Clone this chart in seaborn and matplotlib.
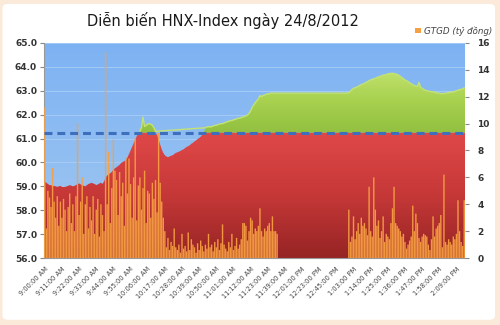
import numpy as np
import pandas as pd
import matplotlib
matplotlib.use("Agg")
import matplotlib.pyplot as plt
import seaborn as sns
from matplotlib.colors import LinearSegmentedColormap
from matplotlib.path import Path
from matplotlib.patches import FancyBboxPatch, Patch

# ---------------- data ----------------
title = "Diễn biến HNX-Index ngày 24/8/2012"
legend_label = "GTGD (tỷ đồng)"
reference_level = 61.25

tick_labels = ["9:00:00 AM", "9:11:00 AM", "9:22:00 AM", "9:33:00 AM", "9:44:00 AM",
               "9:55:00 AM", "10:06:00 AM", "10:17:00 AM", "10:28:00 AM", "10:39:00 AM",
               "10:50:00 AM", "11:01:00 AM", "11:12:00 AM", "11:23:00 AM", "11:39:00 AM",
               "12:01:00 PM", "12:23:00 PM", "12:45:00 PM", "1:03:00 PM", "1:14:00 PM",
               "1:25:00 PM", "1:36:00 PM", "1:47:00 PM", "1:58:00 PM", "2:09:00 PM"]
tick_every = 11

index_values = [
    59.20, 59.15, 59.10, 59.05, 59.05, 59.00, 59.02, 59.00, 58.98, 59.00,
    59.02, 58.98, 58.97, 58.98, 59.00, 59.02, 59.05, 59.03, 59.00, 59.02,
    59.05, 59.10, 59.12, 59.08, 59.05, 59.02, 59.00, 59.05, 59.10, 59.12,
    59.15, 59.12, 59.10, 59.05, 59.08, 59.12, 59.15, 59.10, 59.20, 59.35,
    59.45, 59.50, 59.55, 59.60, 59.70, 59.75, 59.80, 59.85, 59.90, 59.98,
    60.02, 60.05, 60.10, 60.20, 60.35, 60.50, 60.65, 60.80, 60.95, 61.10,
    61.20, 61.30, 61.45, 61.90, 61.50, 61.55, 61.60, 61.62, 61.60, 61.55,
    61.45, 61.30, 61.15, 60.95, 60.75, 60.55, 60.40, 60.30, 60.25, 60.22,
    60.25, 60.28, 60.30, 60.35, 60.40, 60.42, 60.45, 60.48, 60.52, 60.55,
    60.60, 60.65, 60.68, 60.72, 60.78, 60.82, 60.88, 60.92, 60.98, 61.02,
    61.08, 61.15, 61.25, 61.45, 61.48, 61.50, 61.48, 61.50, 61.52, 61.55,
    61.55, 61.58, 61.60, 61.62, 61.62, 61.65, 61.68, 61.70, 61.72, 61.75,
    61.75, 61.78, 61.80, 61.82, 61.85, 61.85, 61.88, 61.90, 61.92, 61.95,
    61.98, 62.05, 62.15, 62.30, 62.40, 62.50, 62.58, 62.65, 62.80, 62.75,
    62.80, 62.82, 62.85, 62.87, 62.88, 62.90, 62.90, 62.90, 62.90, 62.90,
    62.90, 62.90, 62.90, 62.90, 62.90, 62.90, 62.90, 62.90, 62.90, 62.90,
    62.90, 62.90, 62.90, 62.90, 62.90, 62.90, 62.90, 62.90, 62.90, 62.90,
    62.90, 62.90, 62.90, 62.90, 62.90, 62.90, 62.90, 62.90, 62.90, 62.90,
    62.90, 62.90, 62.90, 62.90, 62.90, 62.90, 62.90, 62.90, 62.90, 62.90,
    62.90, 62.90, 62.90, 62.90, 62.90,
    62.92, 62.98, 63.05, 63.10, 63.12,
    63.15, 63.18, 63.22, 63.25, 63.28, 63.30, 63.35, 63.38, 63.42, 63.45,
    63.48, 63.50, 63.52, 63.55, 63.58, 63.60, 63.62, 63.65, 63.66, 63.68,
    63.70, 63.72, 63.72, 63.73, 63.72, 63.70, 63.68, 63.65, 63.60, 63.55,
    63.50, 63.45, 63.42, 63.38, 63.33, 63.30, 63.25, 63.22, 63.20, 63.18,
    63.35, 63.15, 63.10, 63.05, 63.02, 63.00, 62.98, 62.97, 62.96, 62.95,
    62.94, 62.92, 62.90, 62.90, 62.88, 62.88, 62.88, 62.90, 62.90, 62.92,
    62.93, 62.95, 62.95, 62.97, 63.00, 63.02, 63.05, 63.05, 63.08, 63.12,
]

volume_values = [
    11.2, 2.2, 5.0, 4.5, 3.8, 6.7, 4.2, 3.0, 4.6, 2.4,
    4.2, 3.0, 4.4, 3.6, 2.0, 3.8, 4.8, 2.6, 4.0, 2.0,
    4.6, 10.0, 3.2, 4.2, 6.0, 1.8, 4.0, 4.6, 2.2, 3.8,
    2.8, 4.6, 1.8, 3.6, 4.4, 1.6, 4.0, 3.2, 2.0, 15.3,
    4.0, 7.9, 2.6, 5.2, 8.8, 6.5, 5.8, 3.2, 6.4, 4.6,
    5.6, 2.4, 7.5, 4.8, 7.4, 5.5, 3.0, 6.0, 8.9, 2.8,
    5.4, 6.0, 3.6, 5.2, 6.5, 2.6, 5.0, 4.8, 3.0, 5.6,
    4.4, 5.8, 3.4, 9.3, 5.6, 4.2, 3.0, 2.0, 0.8, 1.5,
    0.6, 1.2, 0.9, 2.2, 0.8, 0.6, 1.0, 0.4, 1.8, 0.7,
    0.9, 0.5, 1.9, 0.6, 1.4, 1.0, 0.8, 0.4, 1.1, 0.6,
    1.3, 0.9, 0.5, 1.0, 0.7, 1.8, 0.8, 1.0, 0.5, 1.2,
    0.8, 1.4, 0.6, 1.1, 2.5, 1.0, 0.7, 0.5, 1.2, 0.8,
    1.8, 0.6, 0.9, 1.5, 0.7, 1.0, 1.4, 2.6, 2.6, 2.4,
    1.3, 2.0, 3.0, 2.8, 1.8, 2.2, 2.0, 2.4, 3.7, 2.0,
    1.6, 2.2, 2.0, 2.4, 2.6, 2.0, 3.1, 2.0, 2.0, 1.8,
    0.0, 0.0, 0.0, 0.0, 0.0, 0.0, 0.0, 0.0, 0.0, 0.0,
    0.0, 0.0, 0.0, 0.0, 0.0, 0.0, 0.0, 0.0, 0.0, 0.0,
    0.0, 0.0, 0.0, 0.0, 0.0, 0.0, 0.0, 0.0, 0.0, 0.0,
    0.0, 0.0, 0.0, 0.0, 0.0, 0.0, 0.0, 0.0, 0.0, 0.0,
    0.0, 0.0, 0.0, 0.0, 0.0,
    3.6, 1.2, 1.6, 3.1, 1.4,
    2.0, 2.6, 1.8, 3.0, 2.4, 2.6, 2.2, 1.7, 5.3, 2.0,
    1.6, 6.0, 3.6, 2.4, 2.8, 1.5, 2.0, 3.1, 1.2, 1.8,
    1.6, 1.4, 2.6, 3.7, 5.3, 2.6, 2.4, 2.2, 2.0, 1.6,
    1.8, 1.2, 0.7, 1.0, 1.3, 1.6, 3.9, 2.0, 3.3, 2.6,
    1.5, 1.2, 1.6, 1.8, 1.7, 1.6, 1.0, 0.6, 1.4, 3.1,
    1.6, 2.2, 2.4, 2.6, 3.2, 0.8, 6.2, 1.2, 1.0, 1.4,
    1.2, 1.0, 1.6, 1.4, 1.8, 4.3, 2.0, 1.2, 0.9, 4.3,
]

assert len(index_values) == len(volume_values), (len(index_values), len(volume_values))
n = len(index_values)
df = pd.DataFrame({"idx": np.arange(n), "index": index_values, "vol": volume_values})

# ---------------- style ----------------
sns.set_style("white")
plt.rcParams["font.family"] = ["DejaVu Sans"]

BG_PEACH = "#fbe9da"
ORANGE = "#f7a042"
TXT = "#333333"

fig = plt.figure(figsize=(5, 3.25), dpi=100, facecolor=BG_PEACH)
fig.patches.append(FancyBboxPatch((0.005, 0.016), 0.985, 0.972,
                                  boxstyle="round,pad=0,rounding_size=0.012",
                                  transform=fig.transFigure, facecolor="white",
                                  edgecolor="none", zorder=-5))

ax = fig.add_axes([0.088, 0.206, 0.842, 0.662])
ax.set_facecolor("#84b7f3")
Y0, Y1 = 56.0, 65.0
X0, X1 = -0.5, n - 0.5


def gradient_area(axis, x, lo, hi, colors, ylo, yhi, z):
    coll = axis.fill_between(x, lo, hi, facecolor="none", edgecolor="none", linewidth=0)
    paths = [p for p in coll.get_paths() if len(p.vertices)]
    cmap = LinearSegmentedColormap.from_list("g", colors)
    grad = np.linspace(0, 1, 256).reshape(-1, 1)
    im = axis.imshow(grad, extent=[x[0], x[-1], ylo, yhi], origin="lower",
                     aspect="auto", cmap=cmap, zorder=z, interpolation="bilinear")
    im.set_clip_path(Path.make_compound_path(*paths), axis.transData)
    return im


# background gradient (blue)
ax.imshow(np.linspace(0, 1, 256).reshape(-1, 1), extent=[X0, X1, Y0, Y1], origin="lower",
          aspect="auto", cmap=LinearSegmentedColormap.from_list("b", ["#a3c9f1", "#7db2f3"]),
          zorder=0.1)
ax.yaxis.grid(True, color="#a9cdf7", linewidth=0.6, zorder=0.3)
ax.set_axisbelow(True)

idx_arr = np.asarray(index_values)
xe = np.concatenate([[X0], df["idx"].to_numpy(), [X1]])
ye = np.concatenate([[idx_arr[0]], idx_arr, [idx_arr[-1]]])
red_top = np.minimum(ye, reference_level)
green_top = np.maximum(ye, reference_level)

gradient_area(ax, xe, np.full_like(xe, Y0), red_top,
              ["#962424", "#c63838", "#e04848"], Y0, reference_level, 1.5)
gradient_area(ax, xe, np.full_like(xe, reference_level), green_top,
              ["#92c040", "#a6d04e", "#bfe06a"], reference_level, 63.8, 1.6)

# top edge of the index area
edge = df["index"].where(df["index"] > reference_level)
sns.lineplot(x=df["idx"], y=edge, color="#c2e274", linewidth=1.0, ax=ax, zorder=1.7)

ax.set_xlim(X0, X1)
ax.set_ylim(Y0, Y1)
ax.set_yticks(np.arange(56, 65.01, 1.0))
ax.set_yticklabels([f"{v:.1f}" for v in np.arange(56, 65.01, 1.0)],
                   fontsize=6.5, fontweight="bold", color=TXT)
ax.set_xticks(np.arange(0, len(tick_labels) * tick_every, tick_every))
ax.set_xticklabels(tick_labels, rotation=45, ha="right", rotation_mode="anchor",
                   fontsize=4.8, color="#444444")
ax.set_xticks(np.arange(0, n), minor=True)
ax.tick_params(axis="x", which="major", length=2.5, color="#999999", pad=3)
ax.tick_params(axis="x", which="minor", length=2, color="#aaaaaa", width=0.5)
ax.tick_params(axis="y", length=3, color="#888888", pad=2, left=True)
ax.set_xlabel("")
ax.set_ylabel("")
for s in ["top", "right"]:
    ax.spines[s].set_visible(False)
for s in ["left", "bottom"]:
    ax.spines[s].set_color("#999999")
    ax.spines[s].set_linewidth(0.8)

# volume bars on secondary axis
ax2 = ax.twinx()
sns.barplot(data=df, x="idx", y="vol", native_scale=True, color=ORANGE, saturation=1,
            alpha=0.93, width=0.9, linewidth=0, errorbar=None, ax=ax2, zorder=2)
for p in ax2.patches:
    p.set_snap(False)
ax2.set_xlim(X0, X1)
ax2.set_ylim(0, 16)
ax2.set_yticks(np.arange(0, 17, 2))
ax2.set_yticklabels([str(v) for v in range(0, 17, 2)], fontsize=6.5,
                    fontweight="bold", color=TXT)
ax2.tick_params(axis="y", length=3, color="#888888", pad=6, right=True)
ax2.set_xlabel("")
ax2.set_ylabel("")
for s in ["top", "left", "bottom", "right"]:
    ax2.spines[s].set_visible(False)

# reference (previous close) dashed line
ref_line, = ax2.plot([X0, X1], [reference_level, reference_level], transform=ax.transData,
                     color="#3d6fbd", linewidth=2.2, zorder=5, solid_capstyle="butt")
ref_line.set_dashes([2.6, 1.6])

fig.text(0.445, 0.938, title, ha="center", va="center", fontsize=10.5, color="#1a1a1a")
fig.legend(handles=[Patch(facecolor=ORANGE, edgecolor="none")], labels=[legend_label],
           loc="center left", bbox_to_anchor=(0.815, 0.905), frameon=False,
           prop={"style": "italic", "size": 6.3}, handlelength=0.6, handleheight=0.6,
           handletextpad=0.35, labelcolor="#444444")

fig.savefig("out.png", dpi=100, facecolor=BG_PEACH)
